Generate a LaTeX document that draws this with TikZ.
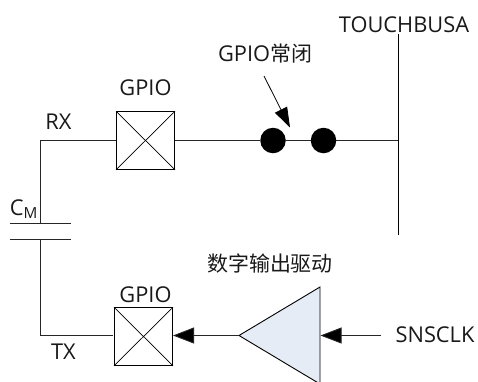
\documentclass[tikz,border=0pt]{standalone}
\usepackage{fontspec}
\setmainfont{Open Sans}
\newfontfamily\cjk[Scale=0.96]{Noto Sans CJK SC}
\usetikzlibrary{arrows.meta}
\definecolor{ampfill}{HTML}{E6ECF6}
\tikzset{
  wire/.style={draw=black!85,line width=0.9pt},
  gpiobox/.style={draw=black,line width=1pt,minimum width=58pt,minimum height=57.5pt,inner sep=0pt,fill=white},
  crossline/.style={draw=black,line width=0.7pt},
  dotnode/.style={circle,fill=black,minimum size=25.5pt,inner sep=0pt},
  lab/.style={inner sep=0pt,font=\fontsize{21.8pt}{24pt}\selectfont,text=black!90},
  bigarrow/.style={-{Triangle[length=21pt,width=16pt,fill=black]}},
  ptr/.style={-{Triangle[length=20pt,width=13.5pt,fill=black]}},
}
\begin{document}
\begin{tikzpicture}[x=1pt,y=-1pt]
\useasboundingbox (0,0) rectangle (478,381);
\begin{scope}
\clip (0,0) rectangle (478,381);
\coordinate (rxc) at (40.5,140.5);
\coordinate (txc) at (40.5,335.5);
\coordinate (captop) at (40.5,223);
\coordinate (capbot) at (40.5,239);
\coordinate (capTL) at (10,223);
\coordinate (capTR) at (71,223);
\coordinate (capBL) at (10,239);
\coordinate (capBR) at (71,239);
\coordinate (busT) at (398,34);
\coordinate (busB) at (398,235);
\coordinate (busJ) at (398,140.5);
\coordinate (ptrS) at (264,76);
\coordinate (ptrE) at (290,127.5);
\coordinate (clkS) at (381,335.5);
\coordinate (ampIn) at (320.5,335.5);
\coordinate (ampTip) at (239,335.5);
\coordinate (g2In) at (173,335.5);
\coordinate (g2Out) at (113,335.5);
% amplifier
\draw[fill=ampfill,line width=0.9pt] (ampTip) -- (320,287) -- (320,384) -- cycle;
% gpio boxes
\node[gpiobox] (g1) at (145.5,140.5) {};
\node[gpiobox] (g2) at (143.5,336.5) {};
\draw[crossline] (g1.north west) -- (g1.south east) (g1.north east) -- (g1.south west);
\draw[crossline] (g2.north west) -- (g2.south east) (g2.north east) -- (g2.south west);
% dots
\node[dotnode] (d1) at (273,140.5) {};
\node[dotnode] (d2) at (323.5,140.5) {};
% wires
\draw[wire] (captop) -- (rxc) -- (g1.west);
\draw[wire] (g1.east) -- (d1) -- (d2) -- (busJ);
\draw[wire] (capbot) -- (txc) -- (g2Out);
\draw[wire,line width=1pt] (capTL) -- (capTR);
\draw[wire,line width=1pt] (capBL) -- (capBR);
\draw[draw=black,line width=1pt] (busT) -- (busB);
\draw[wire,bigarrow] (ampTip) -- (g2In);
\draw[wire,bigarrow] (clkS) -- (ampIn);
\draw[crossline,line width=0.8pt,ptr] (ptrS) -- (ptrE);
\end{scope}
% labels
\node[lab,anchor=center] (l1) at (404,25) {TOUCHBUSA};
\node[lab,anchor=center] (l2) at (265,54) {GPIO{\cjk 常闭}};
\node[lab,anchor=center] (l3) at (145.5,88) {GPIO};
\node[lab,anchor=center] (l4) at (58.5,122) {RX};
\node[lab,anchor=center] (l5) at (24,209) {C\textsubscript{M}};
\node[lab,anchor=center] (l6) at (145.5,295) {GPIO};
\node[lab,anchor=center] (l7) at (63.5,352) {TX};
\node[lab,anchor=center] (l8) at (270,263) {\cjk 数字输出驱动};
\node[lab,anchor=center] (l9) at (435,335) {SNSCLK};
\end{tikzpicture}
\end{document}
